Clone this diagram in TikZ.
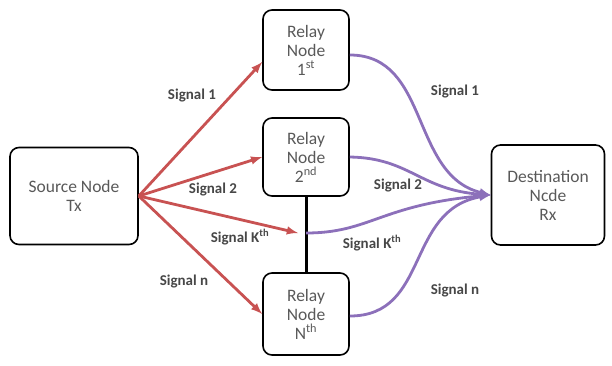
\documentclass[tikz,border=0pt]{standalone}
\usepackage{fontspec}
\setsansfont{Carlito}

\definecolor{txred}{RGB}{200,82,82}
\definecolor{rxpurple}{RGB}{140,112,186}

\tikzset{
  box/.style={draw,line width=1.6pt,rounded corners=9pt,align=center,
    font=\sffamily\fontsize{17.5}{19}\selectfont,text=black!65},
  sig/.style={font=\sffamily\bfseries\fontsize{15}{17}\selectfont,text=black!72},
  tx/.style={draw=txred,line width=2.8pt,->,>=latex},
  rx/.style={draw=rxpurple,line width=2.8pt,->,>=latex},
}

\begin{document}
\begin{tikzpicture}[x=1pt,y=-1pt]
  \useasboundingbox (0,0) rectangle (612,365);

  % nodes
  \node[box,minimum width=128pt,minimum height=97pt] (src) at (74,196) {Source Node\\Tx};
  \node[box,minimum width=86pt,minimum height=80pt] (r1) at (306,50) {Relay\\Node\\1\textsuperscript{st}};
  \node[box,minimum width=86pt,minimum height=78pt] (r2) at (306,157) {Relay\\Node\\2\textsuperscript{nd}};
  \node[box,minimum width=86pt,minimum height=82pt] (rn) at (306,314) {Relay\\Node\\N\textsuperscript{th}};
  \node[box,minimum width=113pt,minimum height=100pt] (dst) at (548,195) {Destination\\Ncde\\Rx};

  \coordinate (kin) at (298,233);
  \coordinate (kout) at (306,233);

  % relay link
  \draw[line width=3pt] (r2.south) -- (rn.north);

  % source to relays
  \draw[tx] (src.east) -- ([yshift=-12pt]r1.west);
  \draw[tx] (src.east) -- (r2.west);
  \draw[tx] (src.east) -- (kin);
  \draw[tx] (src.east) -- (rn.west);

  % relays to destination
  \draw[rx] ([yshift=-5pt]r1.east) .. controls (430,55) and (410,175) .. (dst.west);
  \draw[rx] (r2.east) .. controls (410,158) and (420,190) .. (dst.west);
  \draw[rx] (kout) .. controls (370,233) and (380,205) .. (dst.west);
  \draw[rx] ([yshift=-2pt]rn.east) .. controls (430,316) and (405,210) .. (dst.west);

  % labels
  \node[sig] (s1) at (192,96) {Signal 1};
  \node[sig] (s2) at (213,190) {Signal 2};
  \node[sig] (sk) at (240,237) {Signal K\textsuperscript{th}};
  \node[sig] (sn) at (184,281) {Signal n};
  \node[sig] (t1) at (455,92) {Signal 1};
  \node[sig] (t2) at (398,186) {Signal 2};
  \node[sig] (tk) at (372,243) {Signal K\textsuperscript{th}};
  \node[sig] (tn) at (455,290) {Signal n};
\end{tikzpicture}
\end{document}
